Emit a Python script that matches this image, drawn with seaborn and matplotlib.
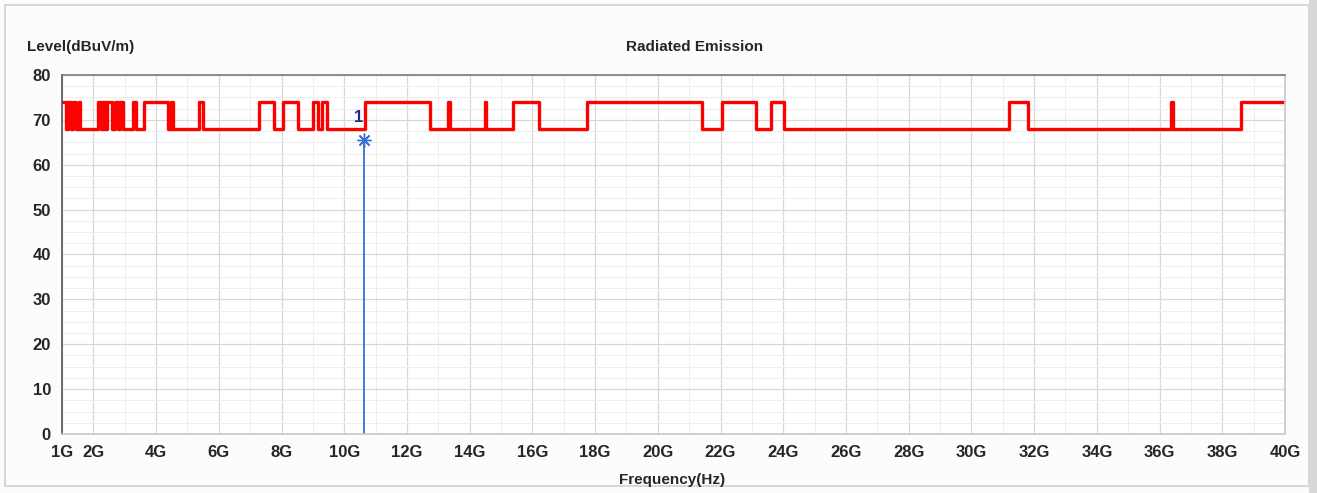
import numpy as np
import pandas as pd
import matplotlib
matplotlib.use("Agg")
import matplotlib.pyplot as plt
from matplotlib.patches import Rectangle
from matplotlib.ticker import FixedLocator, MultipleLocator
import seaborn as sns

# step edges of the trace (GHz): level is high between each start/end pair, low elsewhere
high_start = [1.00, 1.19, 1.35, 1.54, 2.15, 2.31, 2.43, 2.69, 2.85, 3.26, 3.61, 4.48,
              5.37, 7.28, 8.05, 9.00, 9.29, 10.66, 13.31, 14.49, 15.38, 17.74,
              22.05, 23.61, 31.20, 36.36, 38.60]
high_end = [1.13, 1.29, 1.45, 1.57, 2.24, 2.37, 2.59, 2.79, 2.95, 3.36, 4.38, 4.54,
            5.50, 7.76, 8.53, 9.16, 9.45, 12.73, 13.37, 14.52, 16.21, 21.41,
            23.13, 24.02, 31.80, 36.43, 40.00]
level_high = 74.0
level_low = 68.0

marker_freq = 10.62
marker_level = 65.5
marker_label = "1"

x_ticks = [1, 2, 4, 6, 8, 10, 12, 14, 16, 18, 20, 22, 24, 26, 28, 30, 32, 34, 36, 38, 40]
x_tick_labels = [f"{t}G" for t in x_ticks]
y_ticks = [0, 10, 20, 30, 40, 50, 60, 70, 80]

# build step trace
xs, ys = [], []
for s, e in zip(high_start, high_end):
    xs += [s, e]
    ys += [level_high, level_low]
ys[-1] = level_high
trace = pd.DataFrame({"freq": xs, "level": ys})

sns.set_theme(style="white")
plt.rcParams["font.family"] = ["Liberation Sans", "DejaVu Sans"]

fig = plt.figure(figsize=(13.17, 4.93), dpi=100, facecolor="#fcfcfc")
fig.patches.append(Rectangle((0.004, 0.015), 0.99, 0.975, transform=fig.transFigure,
                             fill=False, edgecolor="#d0d0d0", linewidth=1.2))
fig.patches.append(Rectangle((0.994, 0.0), 0.006, 1.0, transform=fig.transFigure,
                             facecolor="#d8d8d8", edgecolor="none"))
ax = fig.add_axes([0.0471, 0.1197, 0.9286, 0.7282])
ax.set_facecolor("white")

# grid
ax.xaxis.set_major_locator(FixedLocator(x_ticks))
ax.xaxis.set_minor_locator(MultipleLocator(1.0))
ax.yaxis.set_major_locator(FixedLocator(y_ticks))
ax.yaxis.set_minor_locator(MultipleLocator(2.5))
ax.grid(which="major", color="#d8d8d8", linewidth=0.9)
ax.grid(which="minor", color="#eeeeee", linewidth=0.7)
ax.set_axisbelow(True)

sns.lineplot(data=trace, x="freq", y="level", drawstyle="steps-post", sort=False,
             estimator=None, color="#ff0000", linewidth=2.4, ax=ax)

# marker
ax.plot([marker_freq, marker_freq], [0, marker_level], color="#3a6fd8", linewidth=1.3)
ax.plot([marker_freq], [marker_level], marker=(8, 2, 0), markersize=10,
        color="#3a6fd8", markeredgewidth=1.0)
ax.text(marker_freq - 0.02, 70.6, marker_label, color="#1c2c8c", fontsize=12,
        fontweight="bold", ha="right", va="center")

ax.set_xlim(1, 40)
ax.set_ylim(0, 80)
ax.set_xticks(x_ticks)
ax.set_xticklabels(x_tick_labels)
ax.set_yticks(y_ticks)
for lab in ax.get_xticklabels() + ax.get_yticklabels():
    lab.set_fontweight("bold")
    lab.set_fontsize(12)
ax.tick_params(axis="both", which="both", length=0, pad=8)
ax.set_xlabel("")
ax.set_ylabel("")

for side, col in [("top", "#7a7a7a"), ("left", "#555555"),
                  ("bottom", "#c8c8c8"), ("right", "#c8c8c8")]:
    ax.spines[side].set_color(col)
    ax.spines[side].set_linewidth(1.2)

fig.text(27 / 1317, 1 - 47 / 493, "Level(dBuV/m)", fontsize=11, fontweight="bold",
         ha="left", va="center")
fig.text(695 / 1317, 1 - 47 / 493, "Radiated Emission", fontsize=11, fontweight="bold",
         ha="center", va="center")
fig.text(672 / 1317, 1 - 480 / 493, "Frequency(Hz)", fontsize=11, fontweight="bold",
         ha="center", va="center")

fig.savefig("out.png", dpi=100, facecolor=fig.get_facecolor())
